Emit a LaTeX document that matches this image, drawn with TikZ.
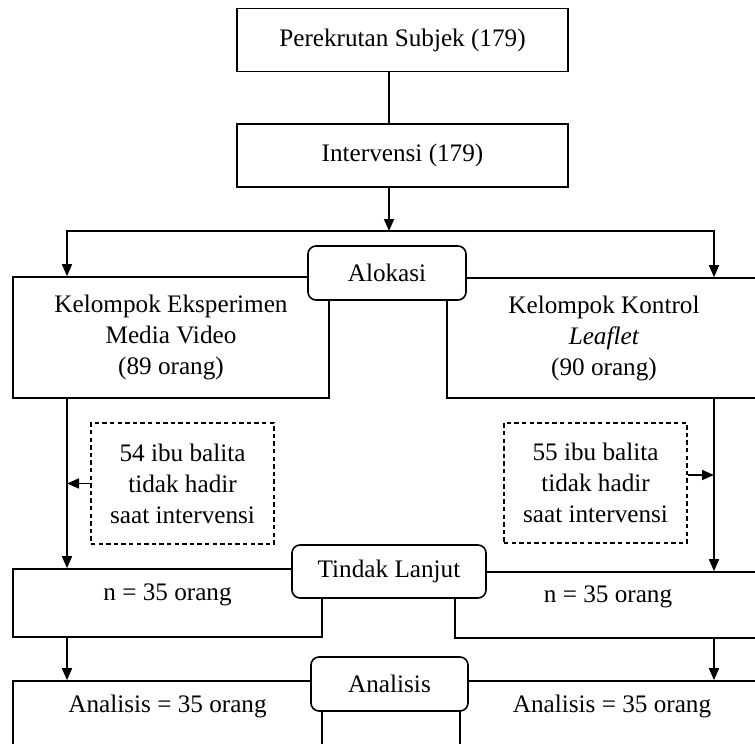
\documentclass[tikz,border=0pt]{standalone}
\usepackage{fontspec}
\setmainfont{Liberation Serif}
\usetikzlibrary{arrows.meta}

\begin{document}
\begin{tikzpicture}[x=1pt,y=-1pt,line width=0.8pt,
        font=\fontsize{12.6}{15.5}\selectfont,
        kotak/.style={draw, rectangle, fill=white, align=center, inner sep=0pt},
        hasil/.style={kotak, text height=8.6pt, text depth=11pt},
        tahap/.style={draw, rectangle, rounded corners=4pt, fill=white, inner sep=0pt},
        putus/.style={draw, dash pattern=on 2.2pt off 1.6pt, line width=0.6pt, align=center, inner sep=0pt},
        panah/.style={-{Triangle[length=6pt,width=5pt]}}]
            \useasboundingbox (0,0) rectangle (377.5,372);
            \coordinate (lc) at (33.5,0);
            \coordinate (rc) at (357,0);
            \coordinate (tengah) at (194.5,0);
            \coordinate (cabang) at (194.5,115.5);
            \node[kotak, minimum width=165.5pt, minimum height=31.5pt] (perekrutan) at (201.25,20) {Perekrutan Subjek (179)};
            \node[kotak, minimum width=165.5pt, minimum height=31.5pt] (intervensi) at (201.25,77.75) {Intervensi (179)};
            \node[kotak, minimum width=158pt, minimum height=60.5pt] (eksp) at (85.5,168.75) {Kelompok Eksperimen\\Media Video\\(89 orang)};
            \node[kotak, minimum width=157pt, minimum height=60pt] (kontrol) at (302,169) {Kelompok Kontrol\\\textit{Leaflet}\\(90 orang)};
            \node[tahap, minimum width=79pt, minimum height=27pt] (alokasi) at (193.5,136.5) {Alokasi};
            \node[putus, minimum width=91.5pt, minimum height=60.5pt] (tidak1) at (91.25,241.75) {54 ibu balita\\tidak hadir\\saat intervensi};
            \node[putus, minimum width=91.5pt, minimum height=60pt] (tidak2) at (297.75,241.5) {55 ibu balita\\tidak hadir\\saat intervensi};
            \node[hasil, minimum width=154.5pt, minimum height=34pt] (nkiri) at (83.75,301.5) {n = 35 orang};
            \node[hasil, minimum width=153pt, minimum height=33pt] (nkanan) at (304,302.5) {n = 35 orang};
            \node[tahap, minimum width=97pt, minimum height=26.5pt] (tindak) at (194.5,285.75) {Tindak Lanjut};
            \node[hasil, minimum width=154.5pt, minimum height=34pt] (akiri) at (83.75,357.5) {Analisis = 35 orang};
            \node[hasil, minimum width=152pt, minimum height=34pt] (akanan) at (306,357.5) {Analisis = 35 orang};
            \node[tahap, minimum width=78.5pt, minimum height=27pt] (analisis) at (194.75,342) {Analisis};
            % alur utama
            \draw (perekrutan.south -| tengah) -- (intervensi.north -| tengah);
            \draw[panah] (intervensi.south -| tengah) -- (cabang);
            \draw[panah] (cabang) -| (eksp.north -| lc);
            \draw[panah] (cabang) -| (kontrol.north -| rc);
            \draw[panah] (eksp.south -| lc) -- (nkiri.north -| lc);
            \draw[panah] (kontrol.south -| rc) -- (nkanan.north -| rc);
            \draw[panah] (tidak1.west) -- (tidak1.west -| lc);
            \draw[panah] ([yshift=4pt]tidak2.east) -- ([yshift=4pt]tidak2.east -| rc);
            \draw[panah] (nkiri.south -| lc) -- (akiri.north -| lc);
            \draw[panah] (nkanan.south -| rc) -- (akanan.north -| rc);
        \end{tikzpicture}
\end{document}
